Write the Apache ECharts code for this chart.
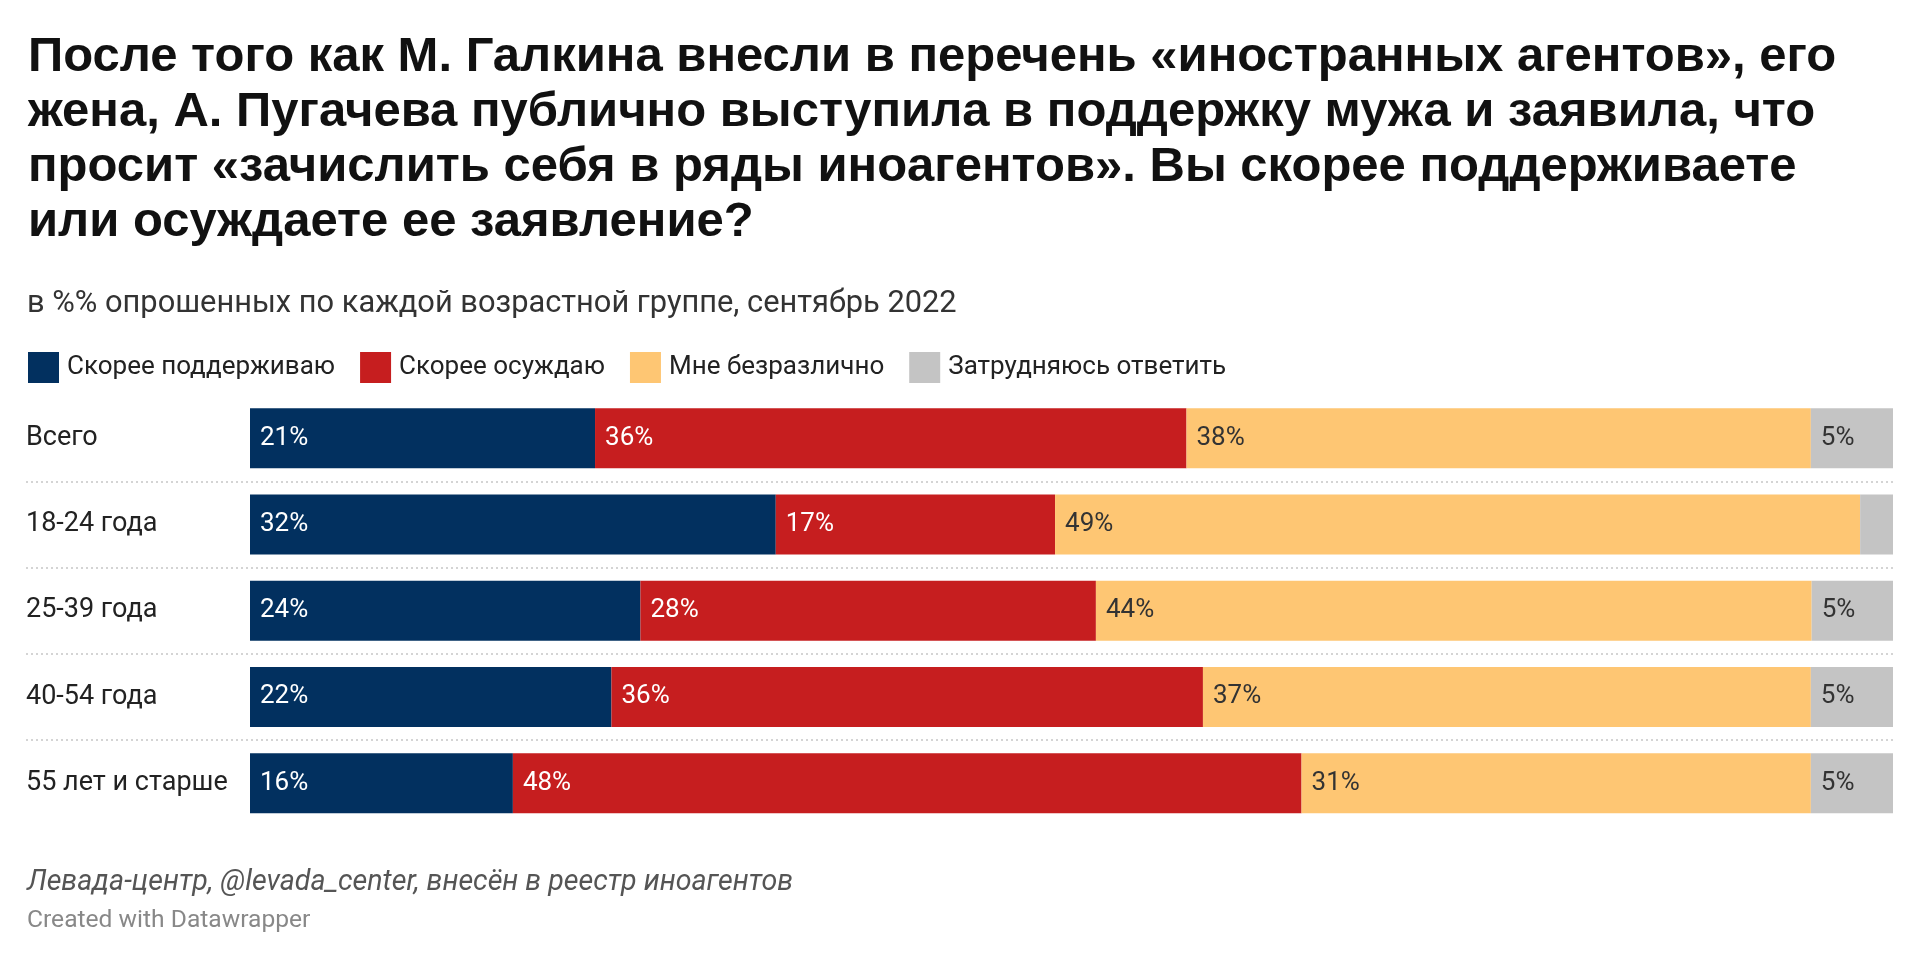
<!DOCTYPE html>
<html>
<head>
<meta charset="utf-8">
<script src="https://cdn.jsdelivr.net/npm/echarts@6/dist/echarts.min.js"></script>
<style>
html,body{margin:0;padding:0;background:#fff;}
#chart{width:1920px;height:958px;}
</style>
</head>
<body>
<div id="chart"></div>
<script>
var categories = ['Всего', '18-24 года', '25-39 года', '40-54 года', '55 лет и старше'];
var seriesNames = ['Скорее поддерживаю', 'Скорее осуждаю', 'Мне безразлично', 'Затрудняюсь ответить'];
var support = [21, 32, 24, 22, 16];
var condemn = [36, 17, 28, 36, 48];
var indifferent = [38, 49, 44, 37, 31];
var hardToSay = [5, 2, 5, 5, 5];

var titleLines = [
  'После того как М. Галкина внесли в перечень «иностранных агентов», его',
  'жена, А. Пугачева публично выступила в поддержку мужа и заявила, что',
  'просит «зачислить себя в ряды иноагентов». Вы скорее поддерживаете',
  'или осуждаете ее заявление?'
];
var subtitleText = 'в %% опрошенных по каждой возрастной группе, сентябрь 2022';
var sourceText = 'Левада-центр, @levada_center, внесён в реестр иноагентов';
var creditText = 'Created with Datawrapper';

var colors = ['#02305f', '#c61e1f', '#fec673', '#c4c4c4'];
var labelColors = ['#ffffff', '#ffffff', '#333333', '#333333'];
var allValues = [support, condemn, indifferent, hardToSay];

// row totals (rounded shares may not add to exactly 100)
var rowTotals = categories.map(function (c, i) {
  return allValues.reduce(function (s, arr) { return s + arr[i]; }, 0);
});

var series = allValues.map(function (arr, k) {
  return {
    name: seriesNames[k],
    type: 'bar',
    stack: 'total',
    xAxisIndex: 0,
    yAxisIndex: 0,
    barWidth: 60,
    itemStyle: { color: colors[k] },
    label: {
      show: true,
      position: 'insideLeft',
      distance: 10,
      color: labelColors[k],
      fontFamily: 'Roboto',
      fontSize: 26,
      formatter: function (p) {
        var v = arr[p.dataIndex];
        return v >= 3 ? v + '%' : '';
      }
    },
    emphasis: { disabled: true },
    data: arr.map(function (v, i) { return v / rowTotals[i] * 100; })
  };
});

var chart = echarts.init(document.getElementById('chart'));
chart.setOption({
  animation: false,
  backgroundColor: '#ffffff',
  title: [
    {
      text: titleLines.join('\n'),
      left: 23,
      top: 25,
      textStyle: { fontFamily: 'Liberation Sans', fontWeight: 'bold', fontSize: 49, lineHeight: 55, color: '#111111' }
    },
    {
      text: subtitleText,
      left: 22,
      top: 282,
      textStyle: { fontFamily: 'Roboto', fontWeight: 'normal', fontSize: 30.8, lineHeight: 34, color: '#333333' }
    },
    {
      text: sourceText,
      left: 22,
      top: 862,
      textStyle: { fontFamily: 'Roboto', fontStyle: 'italic', fontWeight: 'normal', fontSize: 28.6, lineHeight: 32, color: '#555555' }
    },
    {
      text: creditText,
      left: 22,
      top: 901,
      textStyle: { fontFamily: 'Roboto', fontWeight: 'normal', fontSize: 24.6, lineHeight: 30, color: '#888888' }
    }
  ],
  legend: {
    left: 23,
    top: 347,
    itemWidth: 31,
    itemHeight: 31,
    itemGap: 25,
    icon: 'rect',
    selectedMode: false,
    data: seriesNames,
    textStyle: { fontFamily: 'Roboto', fontSize: 26, color: '#222222', padding: [0, 0, 0, 3] }
  },
  grid: [
    { left: 250, right: 27, top: 395, height: 431.25, containLabel: false },
    { left: 26, right: 27, top: 395, height: 431.25, containLabel: false }
  ],
  xAxis: [
    { type: 'value', gridIndex: 0, min: 0, max: 100, show: false },
    { type: 'value', gridIndex: 1, min: 0, max: 100, show: false }
  ],
  yAxis: [
    {
      type: 'category', gridIndex: 0, data: categories, inverse: true,
      axisLine: { show: false }, axisTick: { show: false }, splitLine: { show: false },
      axisLabel: { align: 'left', margin: 224, fontFamily: 'Roboto', fontSize: 27, color: '#222222' }
    },
    {
      type: 'category', gridIndex: 1, data: categories, inverse: true,
      axisLine: { show: false }, axisTick: { show: false }, axisLabel: { show: false },
      splitLine: { show: true, showMinLine: false, showMaxLine: false, lineStyle: { color: '#d4d4d4', width: 2, type: [2, 3] } }
    }
  ],
  series: series
});
</script>
</body>
</html>
